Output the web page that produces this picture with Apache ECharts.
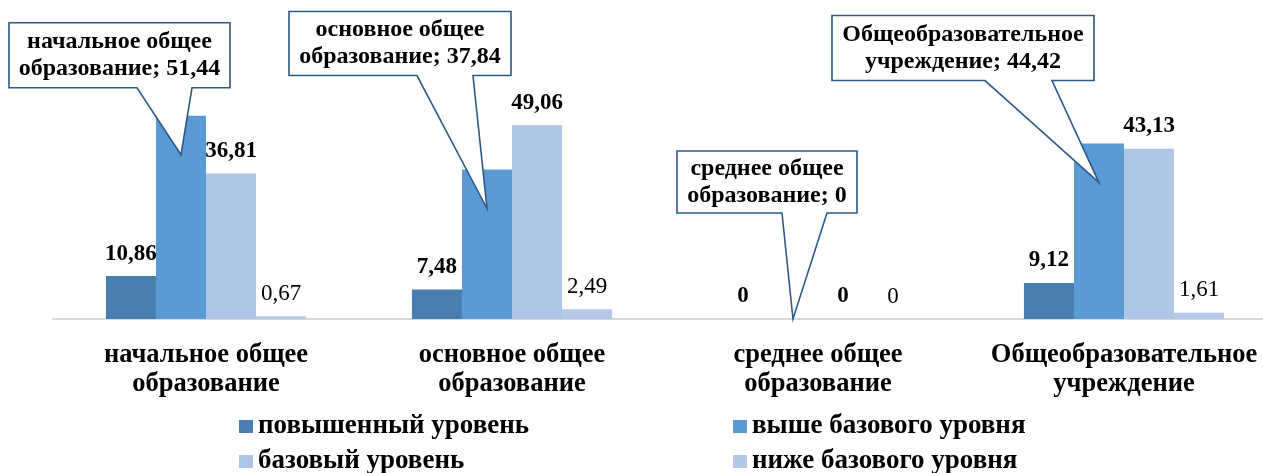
<!DOCTYPE html>
<html>
<head>
<meta charset="utf-8">
<script src="https://cdn.jsdelivr.net/npm/echarts@6/dist/echarts.min.js"></script>
<style>
html, body { margin: 0; padding: 0; background: #fff; }
#chart { width: 1263px; height: 473px; }
</style>
</head>
<body>
<div id="chart"></div>
<script>
// data
const categories = [
  'начальное общее\nобразование',
  'основное общее\nобразование',
  'среднее общее\nобразование',
  'Общеобразовательное\nучреждение'
];
const highLevel = [10.86, 7.48, 0, 9.12];    // повышенный уровень
const aboveBase = [51.44, 37.84, 0, 44.42];  // выше базового уровня
const baseLevel = [36.81, 49.06, 0, 43.13];  // базовый уровень
const belowBase = [0.67, 2.49, 0, 1.61];     // ниже базового уровня

const FONT = "'Liberation Serif', 'Times New Roman', serif";
const colors = ['#4a7eb0', '#5b9bd5', '#adc6e5', '#b4c8e8'];

// callout boxes for "выше базового уровня", relative to the pointer tip
const calloutBoxes = [
  { left: -172, top: -132, w: 221, h: 65, baseL: -44, baseR: 11 },
  { left: -198, top: -197, w: 222, h: 64, baseL: -70, baseR: -14 },
  { left: -116, top: -168, w: 180, h: 62, baseL: -11, baseR: 34 },
  { left: -267, top: -167, w: 262, h: 65, baseL: -114, baseR: -47 }
];

const fmt = v => String(v).replace('.', ',');

const chartDom = document.getElementById('chart');
const chart = echarts.init(chartDom);

const valueLabel = bold => ({
  show: true,
  position: 'top',
  distance: 11,
  formatter: p => fmt(p.value),
  fontFamily: FONT,
  fontSize: 23,
  fontWeight: bold ? 'bold' : 'normal',
  color: '#000'
});

const legendText = { fontFamily: FONT, fontSize: 27, fontWeight: 'bold', color: '#000', lineHeight: 27 };

const option = {
  animation: false,
  color: colors,
  grid: { left: 53, width: 1224, top: 82, bottom: 154, outerBoundsMode: 'none', containLabel: false },
  legend: [
    {
      data: ['повышенный уровень', 'базовый уровень'],
      orient: 'vertical',
      left: 239,
      top: 413,
      height: 80,
      padding: 0,
      itemWidth: 14,
      itemHeight: 13,
      itemGap: 8,
      icon: 'rect',
      textStyle: legendText
    },
    {
      data: ['выше базового уровня', 'ниже базового уровня'],
      orient: 'vertical',
      left: 733,
      top: 413,
      height: 80,
      padding: 0,
      itemWidth: 14,
      itemHeight: 13,
      itemGap: 8,
      icon: 'rect',
      textStyle: legendText
    }
  ],
  xAxis: {
    type: 'category',
    data: categories,
    axisTick: { show: false },
    axisLine: { lineStyle: { color: '#d9d9d9', width: 2 } },
    axisLabel: {
      interval: 0,
      margin: 22,
      fontFamily: FONT,
      fontSize: 26.5,
      fontWeight: 'bold',
      lineHeight: 29,
      color: '#000'
    }
  },
  yAxis: {
    type: 'value',
    min: 0,
    max: 60,
    show: false,
    splitLine: { show: false }
  },
  series: [
    { name: 'повышенный уровень', type: 'bar', data: highLevel, barGap: '0%', barCategoryGap: '34.6%', label: valueLabel(true) },
    { name: 'выше базового уровня', type: 'bar', data: aboveBase, label: { show: false } },
    { name: 'базовый уровень', type: 'bar', data: baseLevel, label: valueLabel(true) },
    { name: 'ниже базового уровня', type: 'bar', data: belowBase, label: valueLabel(false) }
  ]
};

chart.setOption(option);

// callouts pointing into the "выше базового уровня" bars
function drawCallouts() {
  const data = chart.getModel().getSeriesByIndex(1).getData();
  const elements = [];
  aboveBase.forEach((v, i) => {
    const lay = data.getItemLayout(i);
    const tipX = lay.x + lay.width / 2;
    const barTop = Math.min(lay.y, lay.y + lay.height);
    const barBase = Math.max(lay.y, lay.y + lay.height);
    const tipY = Math.min(barTop + 39, barBase);
    const c = calloutBoxes[i];
    const x0 = tipX + c.left, y0 = tipY + c.top;
    const x1 = x0 + c.w, y1 = y0 + c.h;
    elements.push({
      type: 'polygon',
      z: 100,
      shape: {
        points: [[x0, y0], [x1, y0], [x1, y1], [tipX + c.baseR, y1], [tipX, tipY], [tipX + c.baseL, y1], [x0, y1]]
      },
      style: { fill: '#fff', stroke: '#2c5a85', lineWidth: 1.6 }
    });
    elements.push({
      type: 'text',
      z: 101,
      x: (x0 + x1) / 2,
      y: (y0 + y1) / 2,
      style: {
        text: categories[i] + '; ' + fmt(v),
        fontFamily: FONT,
        fontSize: 24,
        fontWeight: 'bold',
        fill: '#000',
        lineHeight: 27,
        align: 'center',
        verticalAlign: 'middle',
        textAlign: 'center',
        textVerticalAlign: 'middle'
      }
    });
  });
  chart.setOption({ graphic: elements });
}
drawCallouts();
</script>
</body>
</html>
